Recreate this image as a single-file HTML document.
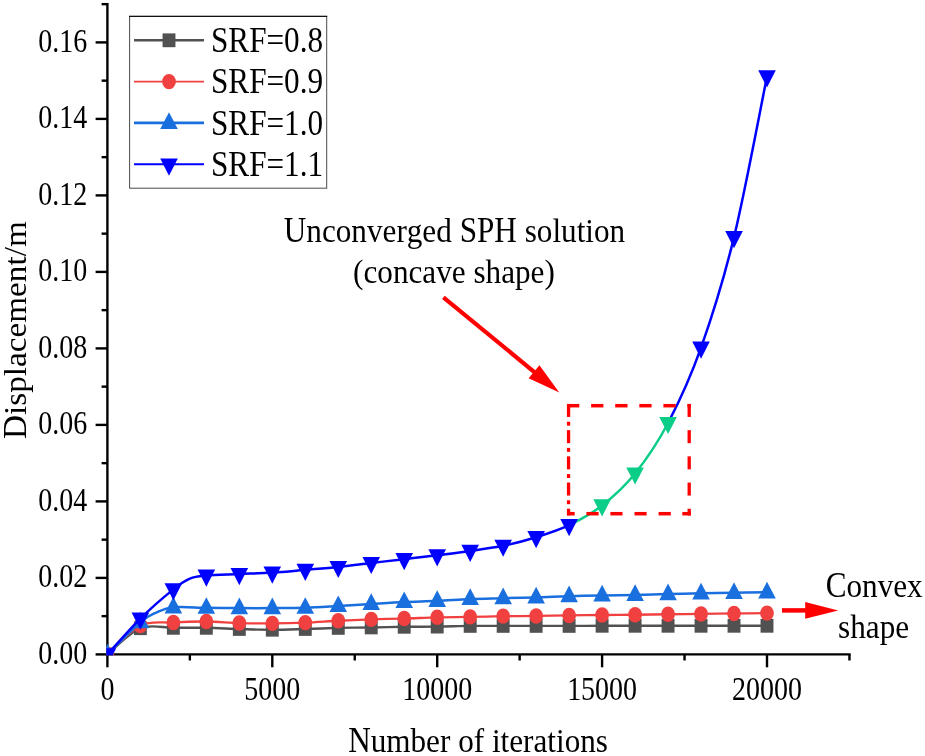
<!DOCTYPE html>
<html><head><meta charset="utf-8"><title>chart</title>
<style>html,body{margin:0;padding:0;background:#fff;}svg{display:block;filter:blur(0.4px);}text{font-family:"Liberation Serif",serif;font-kerning:none;}</style></head>
<body>
<svg width="925" height="756" viewBox="0 0 925 756">
<rect width="100%" height="100%" fill="#fff"/>
<defs><clipPath id="cp"><rect x="106.40" y="0" width="900" height="655.20"/></clipPath></defs>
<g stroke="#000" stroke-width="2.4" fill="none">
<line x1="107.40" y1="2.95" x2="107.40" y2="655.60"/>
<line x1="106.20" y1="654.40" x2="850.65" y2="654.40"/>
<line x1="95.60" y1="654.40" x2="107.40" y2="654.40"/>
<line x1="101.60" y1="616.15" x2="107.40" y2="616.15"/>
<line x1="95.60" y1="577.90" x2="107.40" y2="577.90"/>
<line x1="101.60" y1="539.65" x2="107.40" y2="539.65"/>
<line x1="95.60" y1="501.40" x2="107.40" y2="501.40"/>
<line x1="101.60" y1="463.15" x2="107.40" y2="463.15"/>
<line x1="95.60" y1="424.90" x2="107.40" y2="424.90"/>
<line x1="101.60" y1="386.65" x2="107.40" y2="386.65"/>
<line x1="95.60" y1="348.40" x2="107.40" y2="348.40"/>
<line x1="101.60" y1="310.15" x2="107.40" y2="310.15"/>
<line x1="95.60" y1="271.90" x2="107.40" y2="271.90"/>
<line x1="101.60" y1="233.65" x2="107.40" y2="233.65"/>
<line x1="95.60" y1="195.40" x2="107.40" y2="195.40"/>
<line x1="101.60" y1="157.15" x2="107.40" y2="157.15"/>
<line x1="95.60" y1="118.90" x2="107.40" y2="118.90"/>
<line x1="101.60" y1="80.65" x2="107.40" y2="80.65"/>
<line x1="95.60" y1="42.40" x2="107.40" y2="42.40"/>
<line x1="101.60" y1="4.15" x2="107.40" y2="4.15"/>
<line x1="107.40" y1="654.40" x2="107.40" y2="667.30"/>
<line x1="189.85" y1="654.40" x2="189.85" y2="660.50"/>
<line x1="272.30" y1="654.40" x2="272.30" y2="667.30"/>
<line x1="354.75" y1="654.40" x2="354.75" y2="660.50"/>
<line x1="437.20" y1="654.40" x2="437.20" y2="667.30"/>
<line x1="519.65" y1="654.40" x2="519.65" y2="660.50"/>
<line x1="602.10" y1="654.40" x2="602.10" y2="667.30"/>
<line x1="684.55" y1="654.40" x2="684.55" y2="660.50"/>
<line x1="767.00" y1="654.40" x2="767.00" y2="667.30"/>
<line x1="849.45" y1="654.40" x2="849.45" y2="660.50"/>
</g>
<g clip-path="url(#cp)">
<path d="M107.40 654.40 C112.90 650.03 129.39 632.63 140.38 628.20 C151.37 623.77 162.37 627.88 173.36 627.82 C184.35 627.75 195.35 627.62 206.34 627.82 C217.33 628.01 228.33 628.64 239.32 628.96 C250.31 629.28 261.31 629.73 272.30 629.73 C283.29 629.73 294.29 629.27 305.28 628.96 C316.27 628.66 327.27 628.15 338.26 627.89 C349.25 627.64 360.25 627.62 371.24 627.43 C382.23 627.25 393.23 626.92 404.22 626.78 C415.21 626.64 426.21 626.74 437.20 626.59 C448.19 626.45 459.19 626.02 470.18 625.90 C481.17 625.79 492.17 625.90 503.16 625.90 C514.15 625.90 525.15 625.90 536.14 625.90 C547.13 625.90 558.13 625.92 569.12 625.90 C580.11 625.88 591.11 625.81 602.10 625.79 C613.09 625.77 624.09 625.79 635.08 625.79 C646.07 625.79 657.07 625.79 668.06 625.79 C679.05 625.79 690.05 625.79 701.04 625.79 C712.03 625.79 723.03 625.79 734.02 625.79 C745.01 625.79 761.50 625.79 767.00 625.79" fill="none" stroke="#515151" stroke-width="2.4" stroke-linejoin="round"/>
<rect x="100.95" y="647.50" width="12.90" height="13.80" fill="#515151"/>
<rect x="133.93" y="621.30" width="12.90" height="13.80" fill="#515151"/>
<rect x="166.91" y="620.92" width="12.90" height="13.80" fill="#515151"/>
<rect x="199.89" y="620.92" width="12.90" height="13.80" fill="#515151"/>
<rect x="232.87" y="622.06" width="12.90" height="13.80" fill="#515151"/>
<rect x="265.85" y="622.83" width="12.90" height="13.80" fill="#515151"/>
<rect x="298.83" y="622.06" width="12.90" height="13.80" fill="#515151"/>
<rect x="331.81" y="620.99" width="12.90" height="13.80" fill="#515151"/>
<rect x="364.79" y="620.53" width="12.90" height="13.80" fill="#515151"/>
<rect x="397.77" y="619.88" width="12.90" height="13.80" fill="#515151"/>
<rect x="430.75" y="619.69" width="12.90" height="13.80" fill="#515151"/>
<rect x="463.73" y="619.00" width="12.90" height="13.80" fill="#515151"/>
<rect x="496.71" y="619.00" width="12.90" height="13.80" fill="#515151"/>
<rect x="529.69" y="619.00" width="12.90" height="13.80" fill="#515151"/>
<rect x="562.67" y="619.00" width="12.90" height="13.80" fill="#515151"/>
<rect x="595.65" y="618.89" width="12.90" height="13.80" fill="#515151"/>
<rect x="628.63" y="618.89" width="12.90" height="13.80" fill="#515151"/>
<rect x="661.61" y="618.89" width="12.90" height="13.80" fill="#515151"/>
<rect x="694.59" y="618.89" width="12.90" height="13.80" fill="#515151"/>
<rect x="727.57" y="618.89" width="12.90" height="13.80" fill="#515151"/>
<rect x="760.55" y="618.89" width="12.90" height="13.80" fill="#515151"/>
<path d="M107.40 654.40 C112.90 649.59 129.39 630.88 140.38 625.56 C151.37 620.24 162.37 623.14 173.36 622.46 C184.35 621.79 195.35 621.41 206.34 621.50 C217.33 621.60 228.33 622.72 239.32 623.03 C250.31 623.35 261.31 623.48 272.30 623.42 C283.29 623.35 294.29 623.10 305.28 622.65 C316.27 622.21 327.27 621.29 338.26 620.74 C349.25 620.19 360.25 619.73 371.24 619.36 C382.23 619.00 393.23 618.90 404.22 618.56 C415.21 618.22 426.21 617.57 437.20 617.30 C448.19 617.02 459.19 617.11 470.18 616.91 C481.17 616.72 492.17 616.31 503.16 616.15 C514.15 615.99 525.15 616.07 536.14 615.96 C547.13 615.84 558.13 615.62 569.12 615.46 C580.11 615.30 591.11 615.12 602.10 615.00 C613.09 614.89 624.09 614.90 635.08 614.77 C646.07 614.65 657.07 614.37 668.06 614.24 C679.05 614.10 690.05 614.10 701.04 613.97 C712.03 613.84 723.03 613.62 734.02 613.47 C745.01 613.33 761.50 613.15 767.00 613.09" fill="none" stroke="#f14040" stroke-width="2.3" stroke-linejoin="round"/>
<ellipse cx="107.40" cy="654.40" rx="6.9" ry="7.7" fill="#f14040"/>
<ellipse cx="140.38" cy="625.56" rx="6.9" ry="7.7" fill="#f14040"/>
<ellipse cx="173.36" cy="622.46" rx="6.9" ry="7.7" fill="#f14040"/>
<ellipse cx="206.34" cy="621.50" rx="6.9" ry="7.7" fill="#f14040"/>
<ellipse cx="239.32" cy="623.03" rx="6.9" ry="7.7" fill="#f14040"/>
<ellipse cx="272.30" cy="623.42" rx="6.9" ry="7.7" fill="#f14040"/>
<ellipse cx="305.28" cy="622.65" rx="6.9" ry="7.7" fill="#f14040"/>
<ellipse cx="338.26" cy="620.74" rx="6.9" ry="7.7" fill="#f14040"/>
<ellipse cx="371.24" cy="619.36" rx="6.9" ry="7.7" fill="#f14040"/>
<ellipse cx="404.22" cy="618.56" rx="6.9" ry="7.7" fill="#f14040"/>
<ellipse cx="437.20" cy="617.30" rx="6.9" ry="7.7" fill="#f14040"/>
<ellipse cx="470.18" cy="616.91" rx="6.9" ry="7.7" fill="#f14040"/>
<ellipse cx="503.16" cy="616.15" rx="6.9" ry="7.7" fill="#f14040"/>
<ellipse cx="536.14" cy="615.96" rx="6.9" ry="7.7" fill="#f14040"/>
<ellipse cx="569.12" cy="615.46" rx="6.9" ry="7.7" fill="#f14040"/>
<ellipse cx="602.10" cy="615.00" rx="6.9" ry="7.7" fill="#f14040"/>
<ellipse cx="635.08" cy="614.77" rx="6.9" ry="7.7" fill="#f14040"/>
<ellipse cx="668.06" cy="614.24" rx="6.9" ry="7.7" fill="#f14040"/>
<ellipse cx="701.04" cy="613.97" rx="6.9" ry="7.7" fill="#f14040"/>
<ellipse cx="734.02" cy="613.47" rx="6.9" ry="7.7" fill="#f14040"/>
<ellipse cx="767.00" cy="613.09" rx="6.9" ry="7.7" fill="#f14040"/>
<path d="M107.40 654.40 C112.90 649.04 132.13 629.28 140.38 622.27 C148.62 615.26 151.37 614.81 156.87 612.32 C162.37 609.84 165.12 608.12 173.36 607.35 C181.61 606.59 195.35 607.61 206.34 607.74 C217.33 607.86 228.33 608.05 239.32 608.12 C250.31 608.18 261.31 608.18 272.30 608.12 C283.29 608.05 294.29 608.09 305.28 607.74 C316.27 607.38 327.27 606.61 338.26 605.98 C349.25 605.34 360.25 604.57 371.24 603.91 C382.23 603.25 393.23 602.51 404.22 602.00 C415.21 601.49 426.21 601.36 437.20 600.85 C448.19 600.34 459.19 599.38 470.18 598.94 C481.17 598.49 492.17 598.43 503.16 598.17 C514.15 597.92 525.15 597.74 536.14 597.41 C547.13 597.08 558.13 596.52 569.12 596.18 C580.11 595.85 591.11 595.60 602.10 595.38 C613.09 595.16 624.09 595.10 635.08 594.88 C646.07 594.67 657.07 594.35 668.06 594.08 C679.05 593.81 690.05 593.49 701.04 593.28 C712.03 593.07 723.03 592.98 734.02 592.82 C745.01 592.65 761.50 592.37 767.00 592.28" fill="none" stroke="#1a6fdf" stroke-width="2.5" stroke-linejoin="round"/>
<path d="M107.40 643.80 L116.20 660.50 L98.60 660.50 Z" fill="#1a6fdf"/>
<path d="M140.38 611.67 L149.18 628.37 L131.58 628.37 Z" fill="#1a6fdf"/>
<path d="M173.36 596.75 L182.16 613.45 L164.56 613.45 Z" fill="#1a6fdf"/>
<path d="M206.34 597.13 L215.14 613.84 L197.54 613.84 Z" fill="#1a6fdf"/>
<path d="M239.32 597.52 L248.12 614.22 L230.52 614.22 Z" fill="#1a6fdf"/>
<path d="M272.30 597.52 L281.10 614.22 L263.50 614.22 Z" fill="#1a6fdf"/>
<path d="M305.28 597.13 L314.08 613.84 L296.48 613.84 Z" fill="#1a6fdf"/>
<path d="M338.26 595.38 L347.06 612.08 L329.46 612.08 Z" fill="#1a6fdf"/>
<path d="M371.24 593.31 L380.04 610.01 L362.44 610.01 Z" fill="#1a6fdf"/>
<path d="M404.22 591.40 L413.02 608.10 L395.42 608.10 Z" fill="#1a6fdf"/>
<path d="M437.20 590.25 L446.00 606.95 L428.40 606.95 Z" fill="#1a6fdf"/>
<path d="M470.18 588.34 L478.98 605.04 L461.38 605.04 Z" fill="#1a6fdf"/>
<path d="M503.16 587.57 L511.96 604.27 L494.36 604.27 Z" fill="#1a6fdf"/>
<path d="M536.14 586.81 L544.94 603.51 L527.34 603.51 Z" fill="#1a6fdf"/>
<path d="M569.12 585.58 L577.92 602.28 L560.32 602.28 Z" fill="#1a6fdf"/>
<path d="M602.10 584.78 L610.90 601.48 L593.30 601.48 Z" fill="#1a6fdf"/>
<path d="M635.08 584.28 L643.88 600.98 L626.28 600.98 Z" fill="#1a6fdf"/>
<path d="M668.06 583.48 L676.86 600.18 L659.26 600.18 Z" fill="#1a6fdf"/>
<path d="M701.04 582.68 L709.84 599.38 L692.24 599.38 Z" fill="#1a6fdf"/>
<path d="M734.02 582.22 L742.82 598.92 L725.22 598.92 Z" fill="#1a6fdf"/>
<path d="M767.00 581.68 L775.80 598.38 L758.20 598.38 Z" fill="#1a6fdf"/>
<path d="M107.40 654.40 C112.90 648.43 129.39 629.44 140.38 618.60 C151.37 607.76 165.12 596.03 173.36 589.38 C181.61 582.72 184.35 580.96 189.85 578.66 C195.35 576.37 198.10 576.37 206.34 575.61 C214.59 574.84 228.33 574.58 239.32 574.07 C250.31 573.56 261.31 573.25 272.30 572.54 C283.29 571.84 294.29 570.79 305.28 569.87 C316.27 568.94 327.27 568.15 338.26 567.00 C349.25 565.85 360.25 564.29 371.24 562.98 C382.23 561.68 393.23 560.43 404.22 559.16 C415.21 557.88 426.21 556.71 437.20 555.33 C448.19 553.96 459.19 552.49 470.18 550.90 C481.17 549.30 492.17 548.05 503.16 545.77 C514.15 543.49 525.15 540.64 536.14 537.20 C547.13 533.76 558.13 530.41 569.12 525.12" fill="none" stroke="#0000ff" stroke-width="2.5"/>
<path d="M668.06 422.99 C679.05 402.01 690.05 378.62 701.04 347.63 C712.03 316.65 723.03 282.29 734.02 237.09 C745.01 191.89 761.50 103.22 767.00 76.44" fill="none" stroke="#0000ff" stroke-width="2.5"/>
<path d="M569.12 525.12 C580.11 519.82 591.11 514.02 602.10 505.42 C613.09 496.81 624.09 487.22 635.08 473.48 C646.07 459.74 657.07 443.96 668.06 422.99" fill="none" stroke="#0acd87" stroke-width="2.5"/>
<path d="M107.40 665.50 L116.20 648.30 L98.60 648.30 Z" fill="#0000ff"/>
<path d="M140.38 629.70 L149.18 612.50 L131.58 612.50 Z" fill="#0000ff"/>
<path d="M173.36 600.48 L182.16 583.27 L164.56 583.27 Z" fill="#0000ff"/>
<path d="M206.34 586.71 L215.14 569.50 L197.54 569.50 Z" fill="#0000ff"/>
<path d="M239.32 585.17 L248.12 567.97 L230.52 567.97 Z" fill="#0000ff"/>
<path d="M272.30 583.64 L281.10 566.44 L263.50 566.44 Z" fill="#0000ff"/>
<path d="M305.28 580.97 L314.08 563.77 L296.48 563.77 Z" fill="#0000ff"/>
<path d="M338.26 578.10 L347.06 560.90 L329.46 560.90 Z" fill="#0000ff"/>
<path d="M371.24 574.08 L380.04 556.88 L362.44 556.88 Z" fill="#0000ff"/>
<path d="M404.22 570.26 L413.02 553.06 L395.42 553.06 Z" fill="#0000ff"/>
<path d="M437.20 566.43 L446.00 549.23 L428.40 549.23 Z" fill="#0000ff"/>
<path d="M470.18 562.00 L478.98 544.80 L461.38 544.80 Z" fill="#0000ff"/>
<path d="M503.16 556.87 L511.96 539.67 L494.36 539.67 Z" fill="#0000ff"/>
<path d="M536.14 548.30 L544.94 531.10 L527.34 531.10 Z" fill="#0000ff"/>
<path d="M569.12 536.22 L577.92 519.01 L560.32 519.01 Z" fill="#0000ff"/>
<path d="M602.10 516.52 L610.90 499.32 L593.30 499.32 Z" fill="#0acd87"/>
<path d="M635.08 484.58 L643.88 467.38 L626.28 467.38 Z" fill="#0acd87"/>
<path d="M668.06 434.09 L676.86 416.89 L659.26 416.89 Z" fill="#0acd87"/>
<path d="M701.04 358.74 L709.84 341.53 L692.24 341.53 Z" fill="#0000ff"/>
<path d="M734.02 248.19 L742.82 230.99 L725.22 230.99 Z" fill="#0000ff"/>
<path d="M767.00 87.54 L775.80 70.34 L758.20 70.34 Z" fill="#0000ff"/>
</g>
<g font-family="'Liberation Serif', serif" fill="#000">
<text transform="translate(87.30,663.80) scale(1,1.175)" font-size="28.00" text-anchor="end">0.00</text>
<text transform="translate(87.30,587.30) scale(1,1.175)" font-size="28.00" text-anchor="end">0.02</text>
<text transform="translate(87.30,510.80) scale(1,1.175)" font-size="28.00" text-anchor="end">0.04</text>
<text transform="translate(87.30,434.30) scale(1,1.175)" font-size="28.00" text-anchor="end">0.06</text>
<text transform="translate(87.30,357.80) scale(1,1.175)" font-size="28.00" text-anchor="end">0.08</text>
<text transform="translate(87.30,281.30) scale(1,1.175)" font-size="28.00" text-anchor="end">0.10</text>
<text transform="translate(87.30,204.80) scale(1,1.175)" font-size="28.00" text-anchor="end">0.12</text>
<text transform="translate(87.30,128.30) scale(1,1.175)" font-size="28.00" text-anchor="end">0.14</text>
<text transform="translate(87.30,51.80) scale(1,1.175)" font-size="28.00" text-anchor="end">0.16</text>
<text transform="translate(107.40,699.50) scale(1,1.175)" font-size="28.00" text-anchor="middle">0</text>
<text transform="translate(272.30,699.50) scale(1,1.175)" font-size="28.00" text-anchor="middle">5000</text>
<text transform="translate(437.20,699.50) scale(1,1.175)" font-size="28.00" text-anchor="middle">10000</text>
<text transform="translate(602.10,699.50) scale(1,1.175)" font-size="28.00" text-anchor="middle">15000</text>
<text transform="translate(767.00,699.50) scale(1,1.175)" font-size="28.00" text-anchor="middle">20000</text>
<text xml:space="preserve" transform="translate(348.14,752.10) scale(1,1.120)" font-size="31.20">N</text><text xml:space="preserve" transform="translate(370.67,752.10) scale(1,1.100)" font-size="31.20">umber of iterations</text>
<text xml:space="preserve" transform="translate(25.80,330.10) rotate(-90) scale(1.065,1.050) translate(-102.24,0)" font-size="31.20">D</text><text xml:space="preserve" transform="translate(25.80,330.10) rotate(-90) scale(1.065,1.000) translate(-79.71,0)" font-size="31.20">isplacement/m</text>
<text xml:space="preserve" transform="translate(283.78,242.30) scale(1,1.165)" font-size="31.20">U</text><text xml:space="preserve" transform="translate(306.31,242.30) scale(1,1.090)" font-size="31.20">nconverged </text><text xml:space="preserve" transform="translate(459.64,242.30) scale(1,1.165)" font-size="31.20">SPH</text><text xml:space="preserve" transform="translate(516.88,242.30) scale(1,1.090)" font-size="31.20"> solution</text>
<text xml:space="preserve" transform="translate(353.10,283.20) scale(1,1.090)" font-size="31.20">(concave shape)</text>
<text xml:space="preserve" transform="translate(825.67,597.40) scale(1,1.165)" font-size="31.20">C</text><text xml:space="preserve" transform="translate(846.48,597.40) scale(1,1.090)" font-size="31.20">onvex</text>
<text xml:space="preserve" transform="translate(838.08,638.40) scale(1,1.090)" font-size="31.20">shape</text>
<rect x="129.6" y="16.4" width="197.1" height="171.8" fill="#fff" stroke="#4a4a4a" stroke-width="1"/>
<line x1="129.1" y1="16.4" x2="327.2" y2="16.4" stroke="#111" stroke-width="1.1"/>
<line x1="134" y1="40.30" x2="204" y2="40.30" stroke="#515151" stroke-width="2.4"/>
<rect x="162.55" y="33.40" width="12.90" height="13.80" fill="#515151"/>
<text xml:space="preserve" transform="translate(211.00,52.00) scale(1,1.165)" font-size="31.20">SRF=0.8</text>
<line x1="134" y1="81.60" x2="204" y2="81.60" stroke="#f14040" stroke-width="1.9"/>
<ellipse cx="169.00" cy="81.60" rx="6.9" ry="7.7" fill="#f14040"/>
<text xml:space="preserve" transform="translate(211.00,93.30) scale(1,1.165)" font-size="31.20">SRF=0.9</text>
<line x1="134" y1="122.90" x2="204" y2="122.90" stroke="#1a6fdf" stroke-width="2.6"/>
<path d="M169.00 112.30 L177.80 129.00 L160.20 129.00 Z" fill="#1a6fdf"/>
<text xml:space="preserve" transform="translate(211.00,134.60) scale(1,1.165)" font-size="31.20">SRF=1.0</text>
<line x1="134" y1="164.20" x2="204" y2="164.20" stroke="#0000ff" stroke-width="2.1"/>
<path d="M169.00 175.80 L177.80 158.60 L160.20 158.60 Z" fill="#0000ff"/>
<text xml:space="preserve" transform="translate(211.00,175.90) scale(1,1.165)" font-size="31.20">SRF=1.1</text>
</g>
<line x1="443.40" y1="297.30" x2="535.58" y2="373.01" stroke="#ff0000" stroke-width="4.20"/><path d="M559.30 392.50 L528.64 378.31 L539.43 365.18 Z" fill="#ff0000"/>
<line x1="782.00" y1="610.40" x2="807.20" y2="610.40" stroke="#ff0000" stroke-width="4.50"/><path d="M838.20 610.40 L805.20 618.70 L805.20 602.10 Z" fill="#ff0000"/>
<rect x="567.00" y="403.95" width="12.30" height="3.50" fill="#ff0000"/>
<rect x="591.10" y="403.95" width="12.30" height="3.50" fill="#ff0000"/>
<rect x="615.20" y="403.95" width="12.30" height="3.50" fill="#ff0000"/>
<rect x="639.30" y="403.95" width="12.30" height="3.50" fill="#ff0000"/>
<rect x="663.40" y="403.95" width="12.30" height="3.50" fill="#ff0000"/>
<rect x="687.50" y="403.95" width="3.35" height="3.50" fill="#ff0000"/>
<rect x="567.00" y="511.95" width="7.70" height="3.50" fill="#ff0000"/>
<rect x="586.40" y="511.95" width="12.20" height="3.50" fill="#ff0000"/>
<rect x="610.40" y="511.95" width="12.10" height="3.50" fill="#ff0000"/>
<rect x="634.50" y="511.95" width="12.10" height="3.50" fill="#ff0000"/>
<rect x="658.60" y="511.95" width="12.20" height="3.50" fill="#ff0000"/>
<rect x="682.30" y="511.95" width="8.55" height="3.50" fill="#ff0000"/>
<rect x="687.55" y="403.95" width="3.30" height="13.00" fill="#ff0000"/>
<rect x="566.90" y="403.95" width="3.30" height="13.00" fill="#ff0000"/>
<rect x="687.55" y="430.15" width="3.30" height="13.00" fill="#ff0000"/>
<rect x="566.90" y="430.15" width="3.30" height="13.00" fill="#ff0000"/>
<rect x="687.55" y="456.35" width="3.30" height="13.00" fill="#ff0000"/>
<rect x="566.90" y="456.35" width="3.30" height="13.00" fill="#ff0000"/>
<rect x="687.55" y="482.55" width="3.30" height="13.00" fill="#ff0000"/>
<rect x="566.90" y="482.55" width="3.30" height="13.00" fill="#ff0000"/>
<rect x="687.55" y="508.75" width="3.30" height="6.70" fill="#ff0000"/>
<rect x="566.90" y="508.75" width="3.30" height="6.70" fill="#ff0000"/>
<rect x="566.90" y="421.70" width="3.30" height="3.90" fill="#ff0000"/>
<rect x="566.90" y="447.90" width="3.30" height="3.90" fill="#ff0000"/>
<rect x="566.90" y="474.10" width="3.30" height="3.90" fill="#ff0000"/>
<rect x="566.90" y="500.30" width="3.30" height="3.90" fill="#ff0000"/>
</svg>
</body></html>
